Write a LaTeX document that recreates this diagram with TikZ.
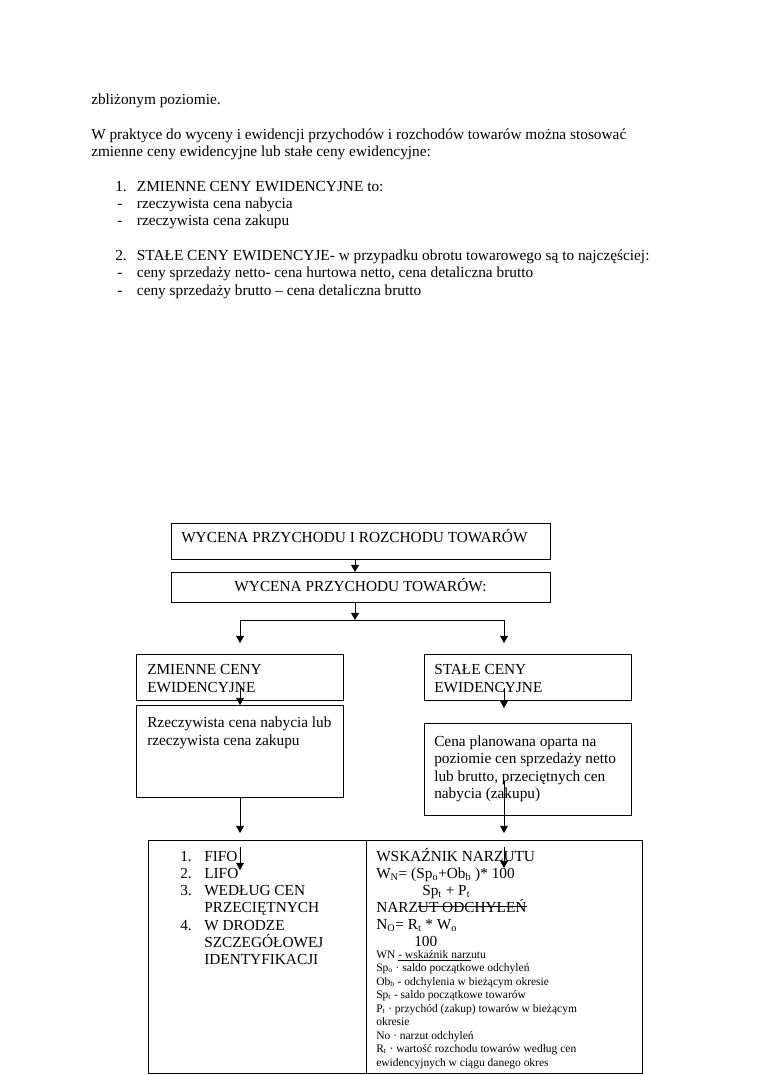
\documentclass[tikz,border=0pt]{standalone}
\usepackage{fontspec}
\setmainfont{Liberation Serif}
\usetikzlibrary{arrows.meta,calc}
\newsavebox\strkbox
\newcommand\mystrike[1]{\sbox\strkbox{#1}\rlap{\rule[0.32em]{\wd\strkbox}{0.5pt}}\usebox\strkbox}
\begin{document}
\begin{tikzpicture}[x=0.7829pt,y=-0.7829pt,
  box/.style={draw, line width=0.6pt, inner sep=0pt, anchor=north west},
  arr/.style={-{Triangle[length=5.5pt,width=6pt]}, line width=0.6pt},
  ln/.style={line width=0.6pt},
  txt/.style={anchor=base west, inner sep=0pt, font=\fontsize{12}{14}\selectfont},
  ctxt/.style={anchor=base, inner sep=0pt, font=\fontsize{12}{14}\selectfont},
  sm/.style={anchor=base west, inner sep=0pt, font=\fontsize{9}{10.5}\selectfont}]
\fill[white] (0,0) rectangle (760,1075);
\useasboundingbox (0,0) rectangle (760,1075);

% ---- top text
\node[txt] (p0) at (91,104.7) {zbliżonym poziomie.};
\node[txt] (p1) at (91,139.3) {W praktyce do wyceny i ewidencji przychodów i rozchodów towarów można stosować};
\node[txt] (p2) at (91,156.6) {zmienne ceny ewidencyjne lub stałe ceny ewidencyjne:};
\node[txt] (n1) at (115,191.2) {1.};
\node[txt] (l1) at (136.7,191.2) {ZMIENNE CENY EWIDENCYJNE to:};
\node[txt] (d1) at (117,208.5) {-};
\node[txt] (l2) at (136.7,208.5) {rzeczywista cena nabycia};
\node[txt] (d2) at (117,225.8) {-};
\node[txt] (l3) at (136.7,225.8) {rzeczywista cena zakupu};
\node[txt] (n2) at (115,260.4) {2.};
\node[txt] (l4) at (136.7,260.4) {STAŁE CENY EWIDENCYJE- w przypadku obrotu towarowego są to najczęściej:};
\node[txt] (d3) at (117,277.7) {-};
\node[txt] (l5) at (136.7,277.7) {ceny sprzedaży netto- cena hurtowa netto, cena detaliczna brutto};
\node[txt] (d4) at (117,295) {-};
\node[txt] (l6) at (136.7,295) {ceny sprzedaży brutto – cena detaliczna brutto};

% ---- boxes
\node[box, minimum width=296.7pt, minimum height=28.2pt] (b1) at (171,523) {};
\node[box, minimum width=296.7pt, minimum height=23.5pt] (b2) at (171,572) {};
\node[box, minimum width=162.1pt, minimum height=36pt] (zm) at (136,654) {};
\node[box, minimum width=162.1pt, minimum height=36pt] (st) at (424,654) {};
\node[box, minimum width=162.1pt, minimum height=72pt] (rz) at (136,705) {};
\node[box, minimum width=162.1pt, minimum height=72pt] (cp) at (424,723) {};
\node[box, minimum width=386.8pt, minimum height=182.4pt] (bot) at (148,840) {};

\coordinate (jx) at (355,620);
\coordinate (jl) at (240,620);
\coordinate (jr) at (504,620);
\coordinate (dv) at (366,840);
\coordinate (ia) at (240,847);
\coordinate (ib) at (240,870);
\coordinate (ic) at (504,847);
\coordinate (id) at (504,868);

% ---- texts in boxes
\node[txt] (t1) at (181,542) {WYCENA PRZYCHODU I ROZCHODU TOWARÓW};
\node[ctxt] (t2) at (360.5,591) {WYCENA PRZYCHODU TOWARÓW:};
\node[txt] (z1) at (147,674) {ZMIENNE CENY};
\node[txt] (z2) at (147,692) {EWIDENCYJNE};
\node[txt] (s1) at (434,674) {STAŁE CENY};
\node[txt] (s2) at (434,692) {EWIDENCYJNE};
\node[txt] (r1) at (147,727) {Rzeczywista cena nabycia lub};
\node[txt] (r2) at (147,745) {rzeczywista cena zakupu};
\node[txt] (c1) at (434,746) {Cena planowana oparta na};
\node[txt] (c2) at (434,763.5) {poziomie cen sprzedaży netto};
\node[txt] (c3) at (434,781) {lub brutto, przeciętnych cen};
\node[txt] (c4) at (434,798.5) {nabycia (zakupu)};

% bottom left list
\node[txt] (f1n) at (180,861) {1.};
\node[txt] (f1) at (204,861) {FIFO};
\node[txt] (f2n) at (180,878.3) {2.};
\node[txt] (f2) at (204,878.3) {LIFO};
\node[txt] (f3n) at (180,895.6) {3.};
\node[txt] (f3) at (204,895.6) {WEDŁUG CEN};
\node[txt] (f3b) at (204,912.9) {PRZECIĘTNYCH};
\node[txt] (f4n) at (180,930.2) {4.};
\node[txt] (f4) at (204,930.2) {W DRODZE};
\node[txt] (f4b) at (204,947.5) {SZCZEGÓŁOWEJ};
\node[txt] (f4c) at (204,964.8) {IDENTYFIKACJI};

% bottom right
\node[txt] (w1) at (376,861) {WSKAŹNIK NARZUTU};
\node[txt] (w2) at (376,878) {W\textsubscript{N}= (Sp\textsubscript{o}+Ob\textsubscript{b} )* 100};
\node[txt] (w3) at (422,895) {Sp\textsubscript{t} + P\textsubscript{t}};
\node[txt] (w4) at (376,912) {NARZ\mystrike{UT ODCHYLEŃ}};
\node[txt] (w5) at (376,929) {N\textsubscript{O}= R\textsubscript{t} * W\textsubscript{o}};
\node[txt] (w6) at (414,946) {100};
\node[sm] (e1) at (376,958) {WN \underline{- wskaźnik narz}utu};
\node[sm] (e2) at (376,971.5) {Sp\textsubscript{o} · saldo początkowe odchyleń};
\node[sm] (e3) at (376,985) {Ob\textsubscript{b} - odchylenia w bieżącym okresie};
\node[sm] (e4) at (376,998.5) {Sp\textsubscript{t} - saldo początkowe towarów};
\node[sm] (e5) at (376,1012) {P\textsubscript{t} · przychód (zakup) towarów w bieżącym};
\node[sm] (e6) at (376,1025.5) {okresie};
\node[sm] (e7) at (376,1039) {No · narzut odchyleń};
\node[sm] (e8) at (376,1052.5) {R\textsubscript{t} · wartość rozchodu towarów według cen};
\node[sm] (e9) at (376,1066) {ewidencyjnych w ciągu danego okres};

% ---- connectors
\draw[arr] (b1.south -| jx) -- (b2.north -| jx);
\draw[arr] (b2.south -| jx) -- (jx);
\draw[ln] (jl) -- (jr);
\draw[arr] (jl) -- ([yshift=8.6pt]zm.north -| jl);
\draw[arr] (jr) -- ([yshift=8.6pt]st.north -| jr);
\draw[arr] ([yshift=10pt]zm.south -| jl) -- (rz.north -| jl);
\draw[arr] ([yshift=10pt]st.south -| jr) -- ([yshift=11.7pt]cp.north -| jr);
\draw[arr] (rz.south -| jl) -- ([yshift=5.5pt]bot.north -| jl);
\draw[arr] ([yshift=27pt]cp.south -| jr) -- ([yshift=5.5pt]bot.north -| jr);
\draw[ln] (bot.north -| dv) -- (bot.south -| dv);
\draw[arr] (ia) -- (ib);
\draw[arr] (ic) -- (id);
\end{tikzpicture}
\end{document}
